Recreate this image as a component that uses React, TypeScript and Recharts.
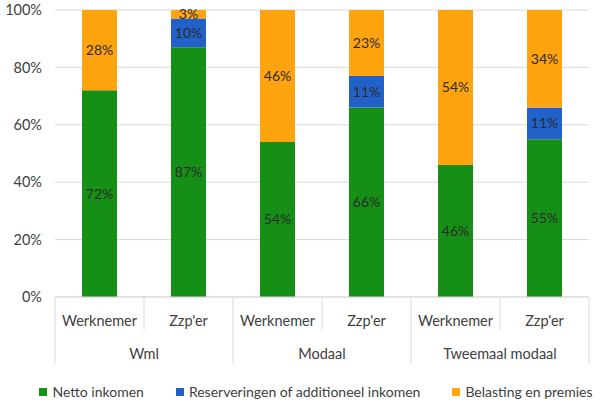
import { Bar, BarChart, CartesianGrid, LabelList, Legend, XAxis, YAxis } from 'recharts'

const subLabels = ['Werknemer', "Zzp'er", 'Werknemer', "Zzp'er", 'Werknemer', "Zzp'er"]
const groupLabels = ['Wml', 'Modaal', 'Tweemaal modaal']
const netto = [72, 87, 54, 66, 46, 55]
const reserveringen = [0, 10, 0, 11, 0, 11]
const belasting = [28, 3, 46, 23, 54, 34]
const yTicks = [0, 20, 40, 60, 80, 100]

const series = [
  { key: 'netto', name: 'Netto inkomen', color: '#168f16' },
  { key: 'reserveringen', name: 'Reserveringen of additioneel inkomen', color: '#2262c8' },
  { key: 'belasting', name: 'Belasting en premies', color: '#ffa30f' },
]

const data = subLabels.map((sub, i) => ({
  sub,
  netto: netto[i],
  reserveringen: reserveringen[i],
  belasting: belasting[i],
}))

const W = 610
const H = 411
const M = { top: 10, right: 21, left: 0, bottom: 25 }
const Y_W = 55
const BAND = (W - M.left - M.right - Y_W) / subLabels.length
const FONT = 'Lato, sans-serif'
const LINE = '#d9d9d9'
const TEXT = '#404040'

function XTick(props: any) {
  const { x, y, payload, index } = props
  const i = payload?.index ?? index
  const left = x - BAND / 2
  const right = x + BAND / 2
  const groupStart = i % 2 === 0
  return (
    <g>
      <line x1={left} x2={left} y1={y} y2={groupStart ? y + 66 : y + 33} stroke={LINE} />
      {i === subLabels.length - 1 && <line x1={right} x2={right} y1={y} y2={y + 66} stroke={LINE} />}
      <text x={x} y={y + 29} textAnchor="middle" fontSize={14.5} fill={TEXT} fontFamily={FONT}>
        {payload.value}
      </text>
      {!groupStart && (
        <text x={left} y={y + 62} textAnchor="middle" fontSize={14.5} fill={TEXT} fontFamily={FONT}>
          {groupLabels[Math.floor(i / 2)]}
        </text>
      )}
    </g>
  )
}

function LegendContent() {
  return (
    <div
      style={{
        display: 'flex',
        justifyContent: 'center',
        gap: 32,
        paddingLeft: 22,
        fontFamily: FONT,
        fontSize: 14,
        color: TEXT,
        lineHeight: '19px',
        whiteSpace: 'nowrap',
        width: W,
        boxSizing: 'border-box',
      }}
    >
      {series.map(s => (
        <span key={s.key} style={{ display: 'flex', alignItems: 'center' }}>
          <span style={{ width: 8, height: 8, background: s.color, marginRight: 5, display: 'inline-block' }} />
          {s.name}
        </span>
      ))}
    </div>
  )
}

export default function App() {
  return (
    <div style={{ position: 'absolute', left: 0, top: 0, width: W, height: H, background: '#fff' }}>
      <BarChart width={W} height={H} data={data} margin={M} barSize={35} style={{ overflow: 'visible' }}>
        <CartesianGrid vertical={false} stroke={LINE} />
        <XAxis
          dataKey="sub"
          tick={<XTick />}
          tickLine={false}
          tickSize={0}
          tickMargin={0}
          height={70}
          axisLine={{ stroke: LINE }}
          interval={0}
        />
        <YAxis
          width={Y_W}
          domain={[0, 100]}
          ticks={yTicks}
          tickFormatter={v => `${v}%`}
          axisLine={false}
          tickLine={false}
          tickSize={0}
          tickMargin={13}
          tick={{ fontSize: 14.5, fill: TEXT, fontFamily: FONT }}
        />
        <Legend
          verticalAlign="bottom"
          content={<LegendContent />}
          wrapperStyle={{ bottom: 10, left: 0, width: W }}
        />
        {series.map(s => (
          <Bar key={s.key} dataKey={s.key} name={s.name} stackId="a" fill={s.color} isAnimationActive={false}>
            <LabelList
              dataKey={s.key}
              position="center"
              formatter={(v: any) => (v ? `${v}%` : '')}
              style={{ fontSize: 14, fill: '#2b2b2b', fontFamily: FONT }}
            />
          </Bar>
        ))}
      </BarChart>
    </div>
  )
}
